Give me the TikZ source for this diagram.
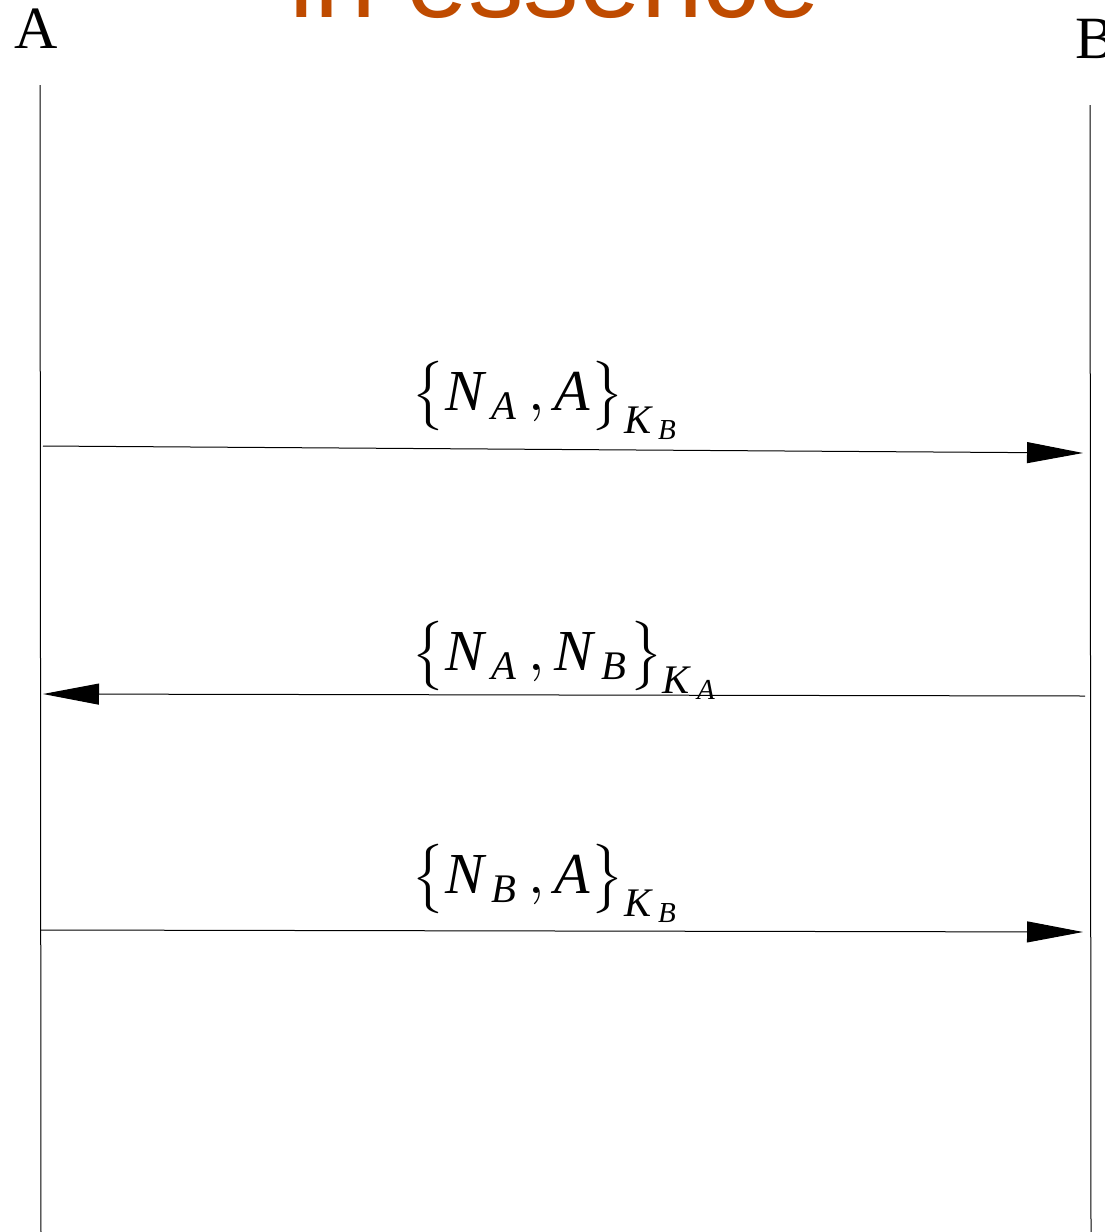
\documentclass[tikz,border=0pt]{standalone}
\usepackage{amsmath}
\usepackage{fontspec}
\setmainfont{Liberation Serif}
\newfontfamily\headfont{Liberation Sans}
\usetikzlibrary{arrows.meta}
\definecolor{rust}{RGB}{191,75,0}
\newcommand{\vi}[1]{\textit{#1}}

\begin{document}
\begin{tikzpicture}[
		x=1pt, y=-1pt,
		agent/.style = {anchor=base, inner sep=0pt, font=\fontsize{60}{60}\selectfont},
		msg/.style = {scale=5.8, inner sep=0pt, anchor=north west},
		line/.style = {line width=1pt},
		arrow/.style = {line width=1pt, -{Triangle[length=56pt, width=21pt]}}
		]
		\useasboundingbox (0,0) rectangle (1105,1232);
		
		% heading, cut off by the top edge
		\node[anchor=base, inner sep=0pt, text=rust, font=\headfont\fontsize{111}{111}\selectfont] (title) at (555,17) {in essence};
		
		\node[agent] (A) at (36,48) {A};
		\node[agent] (B) at (1095,58) {B};
		
		% lifelines
		\coordinate (atop) at (40,85);
		\coordinate (abot) at (41,1232);
		\coordinate (btop) at (1090,105);
		\coordinate (bbot) at (1091,1232);
		\draw[line] (atop) -- (abot);
		\draw[line] (btop) -- (bbot);
		
		% message ends
		\coordinate (a1) at (43,446);
		\coordinate (b1) at (1083,453);
		\coordinate (b2) at (1085,696);
		\coordinate (a2) at (43,694);
		\coordinate (a3) at (41,930);
		\coordinate (b3) at (1083,932);
		
		\node[msg] (m1) at (410,360) {$\big\{\vi{N}_{\,\vi{A}}\,, \vi{A}\big\}_{\vi{K}_{\,\vi{B}}}$};
		\node[msg] (m2) at (410,620) {$\big\{\vi{N}_{\,\vi{A}}\,, \vi{N}_{\,\vi{B}}\big\}_{\vi{K}_{\,\vi{A}}}$};
		\node[msg] (m3) at (410,843) {$\big\{\vi{N}_{\,\vi{B}}\,, \vi{A}\big\}_{\vi{K}_{\,\vi{B}}}$};
		
		\draw[arrow] (a1) -- (b1);
		\draw[arrow] (b2) -- (a2);
		\draw[arrow] (a3) -- (b3);
	\end{tikzpicture}
\end{document}
